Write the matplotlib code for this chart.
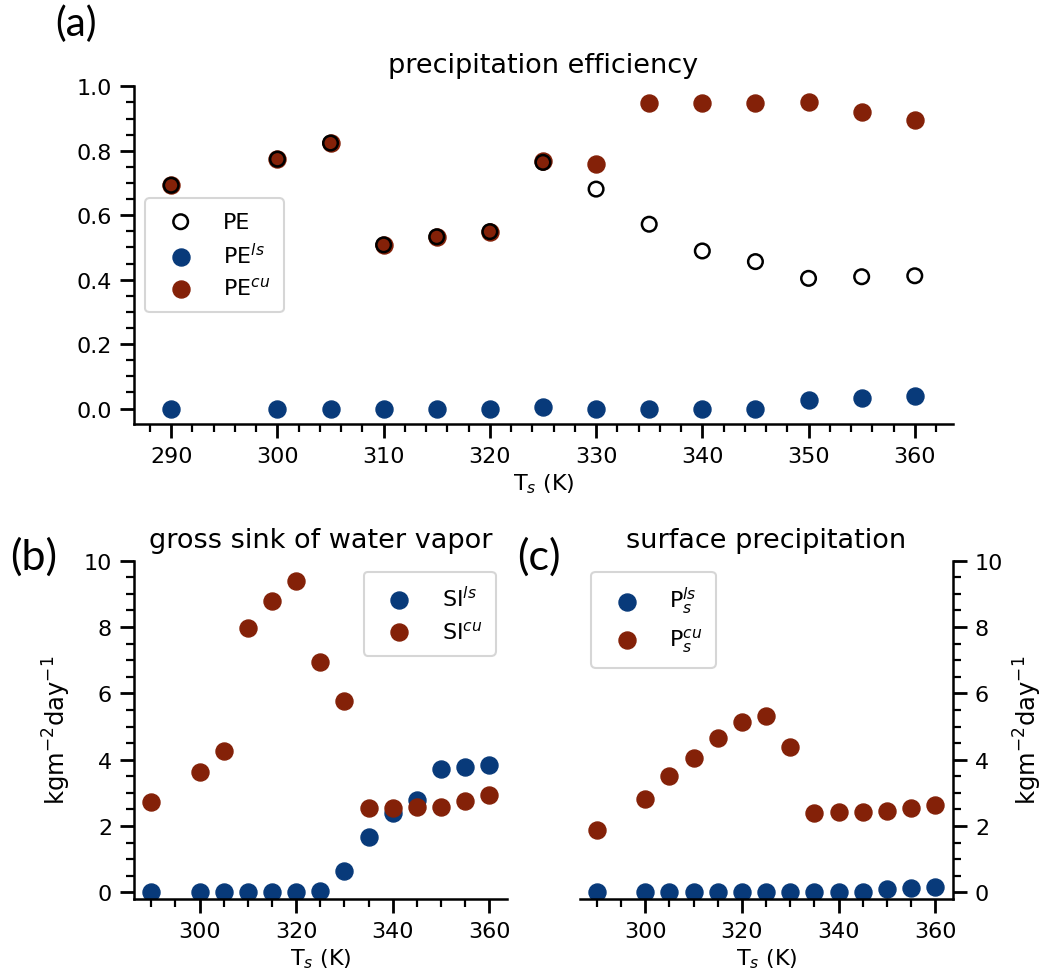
import matplotlib
matplotlib.use('Agg')
import matplotlib.pyplot as plt
from matplotlib.ticker import MultipleLocator

ts = [290, 300, 305, 310, 315, 320, 325, 330, 335, 340, 345, 350, 355, 360]

# (a) precipitation efficiency
pe = [0.693, 0.774, 0.824, 0.508, 0.533, 0.549, 0.764, 0.681, 0.572, 0.489, 0.456, 0.404, 0.409, 0.412]
pe_ls = [0.0, 0.0, 0.0, 0.0, 0.0, 0.0, 0.004, 0.0, 0.0, 0.0, 0.0, 0.025, 0.034, 0.040]
pe_cu = [0.693, 0.774, 0.824, 0.508, 0.533, 0.549, 0.768, 0.758, 0.949, 0.947, 0.949, 0.950, 0.919, 0.897]

# (b) gross sink of water vapor
si_ls = [0.0, 0.0, 0.0, 0.0, 0.0, 0.0, 0.04, 0.65, 1.68, 2.39, 2.79, 3.71, 3.78, 3.84]
si_cu = [2.72, 3.64, 4.25, 7.98, 8.77, 9.38, 6.95, 5.77, 2.53, 2.55, 2.56, 2.57, 2.75, 2.93]

# (c) surface precipitation
p_ls = [0.0, 0.0, 0.0, 0.0, 0.0, 0.0, 0.0, 0.0, 0.0, 0.0, 0.0, 0.09, 0.13, 0.16]
p_cu = [1.89, 2.81, 3.50, 4.04, 4.65, 5.15, 5.33, 4.37, 2.40, 2.41, 2.42, 2.44, 2.53, 2.63]

BLUE = '#083a7a'
BROWN = '#842108'
FS = 16
TFS = 19.5
MS = 150

plt.rcParams['font.family'] = ['DejaVu Sans']
plt.rcParams['mathtext.fontset'] = 'dejavusans'


def style(ax, major, minor, side='left'):
    for s in ['top', 'right', 'left', 'bottom']:
        ax.spines[s].set_linewidth(1.8)
    ax.spines['top'].set_visible(False)
    if side == 'left':
        ax.spines['right'].set_visible(False)
    else:
        ax.spines['left'].set_visible(False)
        ax.yaxis.tick_right()
        ax.yaxis.set_label_position('right')
    ax.tick_params(which='major', length=10, width=2, pad=6, labelsize=FS)
    ax.tick_params(which='minor', length=6, width=1.6)
    ax.xaxis.set_major_locator(MultipleLocator(major))
    ax.xaxis.set_minor_locator(MultipleLocator(minor))
    ax.set_xlim(286.5, 363.6)


def leg(ax, loc, **kw):
    lg = ax.legend(loc=loc, fontsize=FS, handletextpad=0.9, borderpad=0.6,
                   labelspacing=0.45, **kw)
    lg.get_frame().set_edgecolor('#cccccc')
    lg.get_frame().set_linewidth(1.5)
    return lg


fig = plt.figure(figsize=(10.42, 9.79), dpi=100)
ax_a = fig.add_axes([0.1286, 0.5659, 0.786, 0.3449])
ax_b = fig.add_axes([0.1289, 0.0807, 0.3574, 0.3456])
ax_c = fig.add_axes([0.5566, 0.0807, 0.3577, 0.3456])

# panel a
style(ax_a, 10, 2)
h_ls = ax_a.scatter(ts, pe_ls, s=MS, color=BLUE, label='PE$^{ls}$', zorder=2)
h_cu = ax_a.scatter(ts, pe_cu, s=MS, color=BROWN, label='PE$^{cu}$', zorder=2)
h_pe = ax_a.scatter(ts, pe, s=110, facecolors='none', edgecolors='black',
                    linewidths=1.8, label='PE', zorder=3)
ax_a.set_ylim(-0.048, 1.0)
ax_a.yaxis.set_major_locator(MultipleLocator(0.2))
ax_a.yaxis.set_minor_locator(MultipleLocator(0.05))
ax_a.set_title('precipitation efficiency', fontsize=TFS, pad=10)
ax_a.set_xlabel('T$_s$ (K)', fontsize=FS, labelpad=4)
leg(ax_a, 'center left', handles=[h_pe, h_ls, h_cu])

# panel b
style(ax_b, 20, 5)
ax_b.scatter(ts, si_ls, s=MS, color=BLUE, label='SI$^{ls}$', zorder=2)
ax_b.scatter(ts, si_cu, s=MS, color=BROWN, label='SI$^{cu}$', zorder=2)
ax_b.set_ylim(-0.2, 10)
ax_b.yaxis.set_major_locator(MultipleLocator(2))
ax_b.yaxis.set_minor_locator(MultipleLocator(0.5))
ax_b.set_title('gross sink of water vapor', fontsize=TFS, pad=10)
ax_b.set_xlabel('T$_s$ (K)', fontsize=FS, labelpad=4)
ax_b.set_ylabel('kgm$^{-2}$day$^{-1}$', fontsize=17.5, labelpad=8)
leg(ax_b, 'upper right')

# panel c
style(ax_c, 20, 5, side='right')
ax_c.scatter(ts, p_ls, s=MS, color=BLUE, label='P$_s^{ls}$', zorder=2)
ax_c.scatter(ts, p_cu, s=MS, color=BROWN, label='P$_s^{cu}$', zorder=2)
ax_c.set_ylim(-0.2, 10)
ax_c.yaxis.set_major_locator(MultipleLocator(2))
ax_c.yaxis.set_minor_locator(MultipleLocator(0.5))
ax_c.set_title('surface precipitation', fontsize=TFS, pad=10)
ax_c.set_xlabel('T$_s$ (K)', fontsize=FS, labelpad=4)
ax_c.set_ylabel('kgm$^{-2}$day$^{-1}$', fontsize=17.5, labelpad=6)
leg(ax_c, 'upper left')

# panel letters
fig.text(0.073, 0.975, '(a)', fontsize=29, family=['Lato', 'DejaVu Sans'], ha='center', va='center')
fig.text(0.032, 0.431, '(b)', fontsize=31, family=['Lato', 'DejaVu Sans'], ha='center', va='center')
fig.text(0.517, 0.431, '(c)', fontsize=31, family=['Lato', 'DejaVu Sans'], ha='center', va='center')

fig.savefig('out.png', dpi=100)
